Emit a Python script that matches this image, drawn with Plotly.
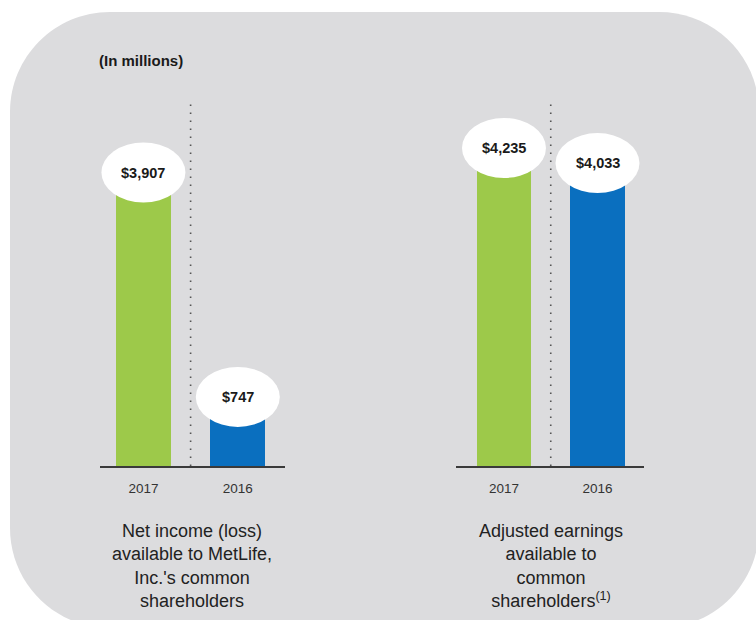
import plotly.graph_objects as go

# ---- data ----
years = ["2017", "2016"]
net_income = [3907, 747]
adjusted_earnings = [4235, 4033]
panel_captions = [
    "Net income (loss)<br>available to MetLife,<br>Inc.'s common<br>shareholders",
    "Adjusted earnings<br>available to<br>common<br>shareholders<sup>(1)</sup>",
]
unit_note = "(In millions)"

# ---- style ----
W, H = 756, 620
bar_colors = ["#9dc94a", "#0a6fbf"]
bg_gray = "#dcdcde"
dark = "#333333"
FONT = "Liberation Sans, Arial, sans-serif"
label_lift = [[0, 13], [0, 0]]  # pixel lift of value bubbles per panel/bar


def px(x):
    return x / W


def py(y):
    return 1 - y / H


fig = go.Figure()

series = [net_income, adjusted_earnings]
xaxes = ["x", "x2"]
yaxes = ["y", "y2"]
xpos = list(range(len(years)))

for p, vals in enumerate(series):
    fig.add_trace(go.Bar(
        x=xpos, y=vals, width=0.58,
        marker=dict(color=bar_colors, line=dict(width=0)),
        xaxis=xaxes[p], yaxis=yaxes[p], showlegend=False, hoverinfo="skip",
    ))

shapes = []

# rounded gray background panel (pixel geometry converted to paper)
L, R, T, B, r = 10, 759, 12, 628, 100
k = 0.5523 * r
pts = [
    f"M{px(L + r)},{py(T)}",
    f"L{px(R - r)},{py(T)}",
    f"C{px(R - r + k)},{py(T)} {px(R)},{py(T + r - k)} {px(R)},{py(T + r)}",
    f"L{px(R)},{py(B - r)}",
    f"C{px(R)},{py(B - r + k)} {px(R - r + k)},{py(B)} {px(R - r)},{py(B)}",
    f"L{px(L + r)},{py(B)}",
    f"C{px(L + r - k)},{py(B)} {px(L)},{py(B - r + k)} {px(L)},{py(B - r)}",
    f"L{px(L)},{py(T + r)}",
    f"C{px(L)},{py(T + r - k)} {px(L + r - k)},{py(T)} {px(L + r)},{py(T)}",
    "Z",
]
shapes.append(dict(type="path", xref="paper", yref="paper", path=" ".join(pts),
                   fillcolor=bg_gray, line=dict(width=0), layer="below"))

YMAX = 4900
annotations = []
for p, vals in enumerate(series):
    xr, yr = xaxes[p], yaxes[p]
    # dotted divider
    shapes.append(dict(type="line", xref=xr, yref=yr, x0=0.5, x1=0.5, y0=0, y1=YMAX,
                       line=dict(color="#555555", width=1.6, dash="1.6px,6.4px")))
    # tick below baseline
    shapes.append(dict(type="line", xref=xr, yref=yr, x0=0.5, x1=0.5,
                       ysizemode="pixel", yanchor=0, y0=-17, y1=0,
                       line=dict(color="#3a3a3a", width=2)))
    for i, v in enumerate(vals):
        lift = label_lift[p][i]
        shapes.append(dict(type="circle", xref=xr, yref=yr,
                           xsizemode="pixel", ysizemode="pixel",
                           xanchor=i, yanchor=v,
                           x0=-42, x1=42, y0=-30 + lift, y1=30 + lift,
                           fillcolor="white", line=dict(width=0)))
        annotations.append(dict(xref=xr, yref=yr, x=i, y=v, yshift=lift,
                                text=f"<b>${v:,}</b>", showarrow=False,
                                font=dict(family=FONT, size=14.5, color="#1a1a1a"),
                                xanchor="center", yanchor="middle"))

# captions
cap_x = [192, 551]
for p, cap in enumerate(panel_captions):
    annotations.append(dict(xref="paper", yref="paper", x=px(cap_x[p]), y=py(519),
                            text=cap, showarrow=False, align="center",
                            xanchor="center", yanchor="top",
                            font=dict(family=FONT, size=18, color="#222222")))

annotations.append(dict(xref="paper", yref="paper", x=px(97), y=py(60),
                        text=f"<b>{unit_note}</b>", showarrow=False,
                        xanchor="left", yanchor="middle",
                        font=dict(family=FONT, size=15, color="#1a1a1a")))

ydom = [py(466), py(98)]
common_x = dict(showline=True, linecolor="#3a3a3a", linewidth=2, showgrid=False,
                zeroline=False, tickmode="array", tickvals=xpos, ticktext=years,
                ticks="", tickfont=dict(family=FONT, size=13.5, color=dark),
                ticklabelstandoff=9, fixedrange=True)
common_y = dict(range=[0, YMAX], domain=ydom, visible=False, showgrid=False,
                zeroline=False, fixedrange=True)

fig.update_layout(
    width=W, height=H,
    margin=dict(l=0, r=0, t=0, b=0),
    paper_bgcolor="white", plot_bgcolor="rgba(0,0,0,0)",
    xaxis=dict(domain=[px(100), px(285)], range=[-0.46, 1.5], anchor="y", **common_x),
    xaxis2=dict(domain=[px(456), px(644)], range=[-0.513, 1.497], anchor="y2", **common_x),
    yaxis=dict(anchor="x", **common_y),
    yaxis2=dict(anchor="x2", **common_y),
    shapes=shapes, annotations=annotations, bargap=0,
)

fig.write_html("out.html", config={"displayModeBar": False},
               post_script="document.body.style.margin='0';document.body.style.overflow='hidden';")
